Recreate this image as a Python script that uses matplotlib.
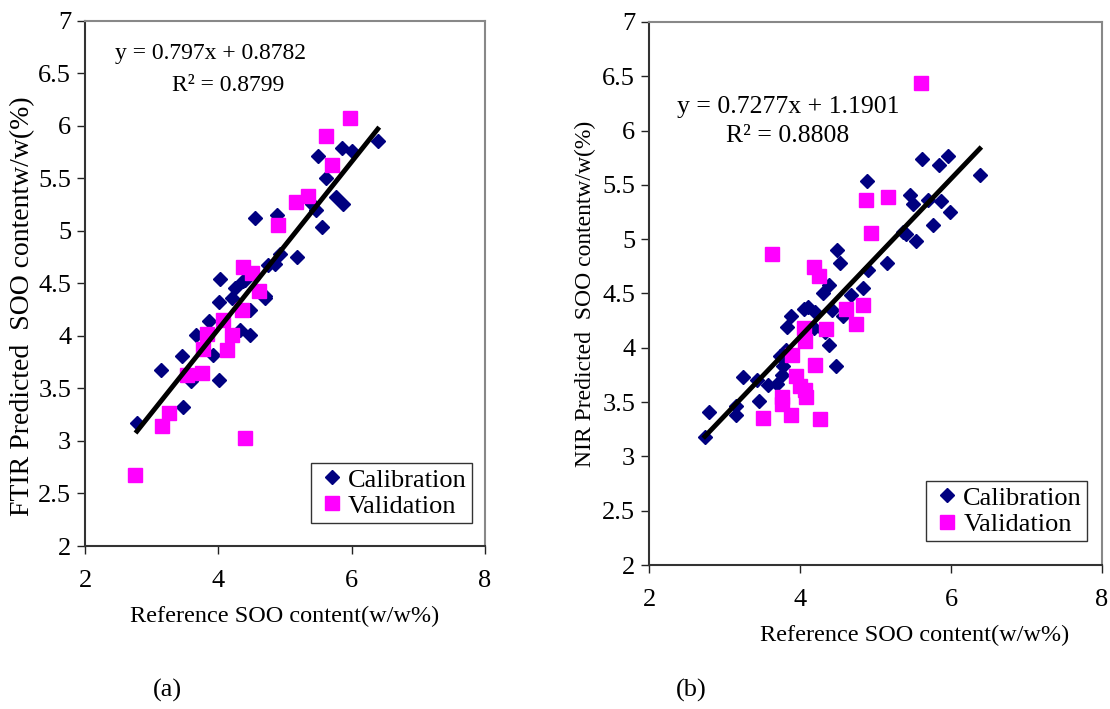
import numpy as np
import matplotlib.pyplot as plt

plt.rcParams['font.family'] = ['Liberation Serif', 'DejaVu Serif']

# (a) FTIR - calibration
ftir_cal_x = [2.78, 3.14, 3.45, 3.47, 3.59, 3.66, 3.86, 3.92, 4.01, 4.01, 4.03, 4.25, 4.2,
              4.37, 4.33, 4.48, 4.47, 4.4, 4.7, 4.7, 4.75, 4.85, 4.93, 5.18, 4.55, 4.88,
              5.41, 5.47, 5.55, 5.5, 5.62, 5.76, 5.87, 5.86, 6.01, 6.39]
ftir_cal_y = [3.17, 3.68, 3.81, 3.32, 3.57, 4.01, 4.14, 3.82, 3.58, 4.32, 4.54, 4.46, 4.36,
              4.52, 4.06, 4.01, 4.25, 4.53, 4.36, 4.38, 4.68, 4.69, 4.78, 4.75, 5.12, 5.15,
              5.26, 5.2, 5.04, 5.71, 5.5, 5.32, 5.26, 5.79, 5.76, 5.86]
# (a) FTIR - validation
ftir_val_x = [2.75, 3.15, 3.26, 3.53, 3.76, 3.77, 3.83, 4.07, 4.13, 4.2, 4.36, 4.4, 4.37,
              4.5, 4.61, 4.9, 5.16, 5.35, 5.62, 5.7, 5.97]
ftir_val_y = [2.68, 3.14, 3.27, 3.63, 3.65, 3.88, 4.02, 4.15, 3.87, 4.01, 4.25, 3.03, 4.66,
              4.6, 4.43, 5.06, 5.28, 5.33, 5.9, 5.63, 6.08]

# (b) NIR - calibration
nir_cal_x = [2.74, 2.79, 3.15, 3.15, 3.46, 3.25, 3.43, 3.58, 3.69, 3.76, 3.78, 3.74, 3.82,
             3.83, 3.88, 4.05, 4.11, 4.2, 4.18, 4.38, 4.33, 4.42, 4.48, 4.57, 4.31, 4.38,
             4.68, 4.83, 4.53, 4.9, 5.15, 4.49, 4.89, 5.37, 5.4, 5.54, 5.76, 5.99, 5.87,
             5.69, 5.5, 5.46, 5.84, 5.61, 5.96, 6.38]
nir_cal_y = [3.18, 3.41, 3.38, 3.46, 3.51, 3.73, 3.7, 3.66, 3.67, 3.75, 3.83, 3.92, 3.98,
             4.19, 4.29, 4.36, 4.38, 4.33, 4.18, 4.03, 4.15, 4.35, 3.83, 4.29, 4.5, 4.58,
             4.49, 4.55, 4.78, 4.72, 4.78, 4.9, 5.54, 5.07, 5.05, 4.98, 5.13, 5.25, 5.35,
             5.36, 5.32, 5.41, 5.68, 5.74, 5.77, 5.59]
# (b) NIR - validation
nir_val_x = [3.51, 3.63, 3.76, 3.76, 3.88, 3.9, 3.95, 4.0, 4.05, 4.06, 4.07, 4.08, 4.18,
             4.2, 4.25, 4.27, 4.34, 4.61, 4.74, 4.83, 4.87, 4.94, 5.17, 5.6]
nir_val_y = [3.35, 4.86, 3.55, 3.48, 3.38, 3.93, 3.74, 3.65, 4.18, 3.61, 4.06, 3.55, 4.74,
             3.84, 4.66, 3.34, 4.17, 4.36, 4.22, 4.39, 5.36, 5.06, 5.39, 6.44]

fits = [(0.797, 0.8782, 0.8799, '0.797x + 0.8782'),
        (0.7277, 1.1901, 0.8808, '0.7277x + 1.1901')]
ylabels = ['FTIR Predicted  SOO contentw/w(%)', 'NIR Predicted  SOO contentw/w(%)']
panels = ['(a)', '(b)']

fig = plt.figure(figsize=(11.1, 7.09), dpi=100)
ax1 = fig.add_axes([0.0766, 0.2299, 0.3604, 0.7405])
ax2 = fig.add_axes([0.5847, 0.2031, 0.4081, 0.7659])

datasets = [(ftir_cal_x, ftir_cal_y, ftir_val_x, ftir_val_y),
            (nir_cal_x, nir_cal_y, nir_val_x, nir_val_y)]
eq_pos = [((3.88, 6.69), (4.15, 6.39)), ((3.84, 6.22), (3.84, 5.95))]
eq_size = [17, 18.5]
ylab_pos = [(-0.155, 0.457), (-0.141, 0.50)]
ylab_size = [20, 17]
xlab_pos = [(0.5, -0.135), (0.587, -0.129)]

for i, ax in enumerate([ax1, ax2]):
    cx, cy, vx, vy = datasets[i]
    ax.plot(cx, cy, 'D', color='#000080', ms=6.8, mec='#000080', label='Calibration', zorder=3)
    ax.plot(vx, vy, 's', color='#FF00FF', ms=10.5, mec='#FF00FF', label='Validation', zorder=3)
    slope, icpt, r2, eq = fits[i]
    xl = np.array([min(cx), max(cx)])
    ax.plot(xl, slope * xl + icpt, color='black', lw=3.5, zorder=4)

    (ex, ey), (rx, ry) = eq_pos[i]
    ax.text(ex, ey, 'y = ' + eq, ha='center', va='center', fontsize=eq_size[i])
    ax.text(rx, ry, 'R² = %.4f' % r2, ha='center', va='center', fontsize=eq_size[i])

    ax.set_xlim(2, 8)
    ax.set_ylim(2, 7)
    ax.set_xticks([2, 4, 6, 8])
    ax.set_yticks(np.arange(2, 7.01, 0.5))
    ax.set_yticklabels(['2', '2.5', '3', '3.5', '4', '4.5', '5', '5.5', '6', '6.5', '7'])
    ax.tick_params(direction='out', length=6, width=1, labelsize=19, colors='#222222',
                   labelcolor='black')
    ax.tick_params(axis='x', pad=11)
    ax.tick_params(axis='y', pad=4)
    for s in ['left', 'bottom']:
        ax.spines[s].set_color('#333333')
        ax.spines[s].set_linewidth(1.5)
    for s in ['top', 'right']:
        ax.spines[s].set_color('#888888')
        ax.spines[s].set_linewidth(1.5)

    ax.set_ylabel(ylabels[i], fontsize=ylab_size[i], va='center')
    ax.yaxis.set_label_coords(*ylab_pos[i])
    ax.set_xlabel('Reference SOO content(w/w%)', fontsize=17.5, va='center')
    ax.xaxis.set_label_coords(*xlab_pos[i])

    leg = ax.legend(loc='lower right', bbox_to_anchor=(0.9675, 0.044), fontsize=19,
                    frameon=True, fancybox=False, handlelength=1.2, handletextpad=0.0,
                    borderpad=0.2, labelspacing=0.1, borderaxespad=0)
    leg.get_frame().set_edgecolor('black')
    leg.get_frame().set_linewidth(1)

fig.text(0.1505, 0.026, panels[0], ha='center', va='center', fontsize=19)
fig.text(0.623, 0.026, panels[1], ha='center', va='center', fontsize=19)

fig.savefig('out.png', dpi=100)
